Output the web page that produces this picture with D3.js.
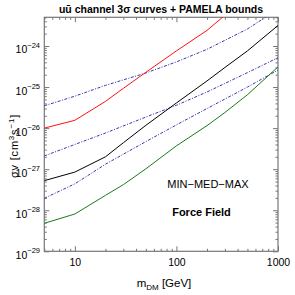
<!DOCTYPE html>
<html>
<head>
<meta charset="utf-8">
<script src="https://cdn.jsdelivr.net/npm/d3@7"></script>
<style>
  body { margin: 0; background: #fff; }
  svg { font-family: "Liberation Sans", Arial, Helvetica, sans-serif; }
</style>
</head>
<body>
<div id="chart"></div>
<script>
// m_DM [GeV] grid for the solid curves and the dash-dot bounds
const massCurves = [5, 10, 20, 30, 50, 100, 200, 300, 500, 1000];
const massBounds = [5, 10, 20, 50, 100, 200, 500, 1000];

// <sigma v> [cm^3 s^-1]
const sigmaMax = [1.0e-26, 1.55e-26, 4.47e-26, 9.3e-26, 2.29e-25, 7.6e-25, 2.4e-24, 5.6e-24, 1.6e-23, 6e-23];
const sigmaMed = [5.25e-28, 8.5e-28, 2.0e-27, 4.4e-27, 1.17e-26, 4.1e-26, 1.41e-25, 3.0e-25, 7.6e-25, 3.16e-24];
const sigmaMin = [4.8e-29, 8.1e-29, 2.3e-28, 4.2e-28, 1.02e-27, 3.7e-27, 1.15e-26, 2.4e-26, 6.5e-26, 3.1e-25];

const boundMax = [3.5e-26, 6.0e-26, 1.1e-25, 2.2e-25, 4.1e-25, 8.3e-25, 2.6e-24, 7.9e-24];
const boundMed = [2.1e-27, 4.0e-27, 7.6e-27, 1.86e-26, 3.6e-26, 7.6e-26, 2.24e-25, 5.2e-25];
const boundMin = [1.95e-28, 4.4e-28, 1.32e-27, 4.7e-27, 1.2e-26, 3.0e-26, 1.0e-25, 2.6e-25];

const xMajor = [10, 100, 1000];
const yMajor = [1e-29, 1e-28, 1e-27, 1e-26, 1e-25, 1e-24];
const yExponents = ["−29", "−28", "−27", "−26", "−25", "−24"];

const W = 295, H = 295;
const plot = { left: 44.3, right: 278, top: 17.3, bottom: 251.3 };

const svg = d3.select("#chart").append("svg")
  .attr("width", W)
  .attr("height", H);

const x = d3.scaleLog().domain([5, 1000]).range([plot.left, plot.right]);
const y = d3.scaleLog().domain([1e-29, 5e-24]).range([plot.bottom, plot.top]);

// minor ticks
const xMinor = [];
[1, 10, 100].forEach(d => d3.range(2, 10).forEach(k => {
  const v = d * k;
  if (v >= 5 && v <= 1000 && !xMajor.includes(v)) xMinor.push(v);
}));
const yMinor = [];
yMajor.forEach(d => d3.range(2, 10).forEach(k => {
  const v = d * k;
  if (v <= 5e-24) yMinor.push(v);
}));

function drawAxis(axis, tx, ty) {
  const g = svg.append("g")
    .attr("transform", `translate(${tx},${ty})`)
    .call(axis);
  g.select(".domain").remove();
  g.selectAll(".tick line").attr("stroke", "#777");
  return g;
}

// bottom (with labels)
const bottom = drawAxis(d3.axisBottom(x).tickValues(xMajor).tickSize(-5).tickPadding(7)
  .tickFormat(d3.format("d")), 0, plot.bottom);
bottom.selectAll("text").attr("font-size", 10.5).attr("fill", "#000")
  .attr("font-family", "Liberation Sans, Arial, sans-serif");
drawAxis(d3.axisBottom(x).tickValues(xMinor).tickSize(-2.5).tickFormat(""), 0, plot.bottom);
// top
drawAxis(d3.axisTop(x).tickValues(xMajor).tickSize(-5).tickFormat(""), 0, plot.top);
drawAxis(d3.axisTop(x).tickValues(xMinor).tickSize(-2.5).tickFormat(""), 0, plot.top);
// left / right
drawAxis(d3.axisLeft(y).tickValues(yMajor).tickSize(-5).tickFormat(""), plot.left, 0);
drawAxis(d3.axisLeft(y).tickValues(yMinor).tickSize(-2.5).tickFormat(""), plot.left, 0);
drawAxis(d3.axisRight(y).tickValues(yMajor).tickSize(-5).tickFormat(""), plot.right, 0);
drawAxis(d3.axisRight(y).tickValues(yMinor).tickSize(-2.5).tickFormat(""), plot.right, 0);

// y tick labels 10^n
yMajor.forEach((v, i) => {
  const t = svg.append("text")
    .attr("x", 40)
    .attr("y", y(v) + 7.5)
    .attr("text-anchor", "end")
    .attr("font-size", 10.5);
  t.append("tspan").text("10");
  t.append("tspan").attr("dy", -5.5).attr("font-size", 7.5).text(yExponents[i]);
});

// frame
svg.append("rect")
  .attr("x", plot.left).attr("y", plot.top)
  .attr("width", plot.right - plot.left)
  .attr("height", plot.bottom - plot.top)
  .attr("fill", "none")
  .attr("stroke", "#777")
  .attr("stroke-width", 1.2);

svg.append("clipPath").attr("id", "clip")
  .append("rect")
  .attr("x", plot.left).attr("y", plot.top)
  .attr("width", plot.right - plot.left)
  .attr("height", plot.bottom - plot.top);

const plotArea = svg.append("g").attr("clip-path", "url(#clip)");

const line = d3.line().x(d => x(d[0])).y(d => y(d[1]));

const series = [
  { m: massBounds, s: boundMax, color: "#3535b0", dash: "3,1.5,1,1.5" },
  { m: massBounds, s: boundMed, color: "#3535b0", dash: "3,1.5,1,1.5" },
  { m: massBounds, s: boundMin, color: "#3535b0", dash: "3,1.5,1,1.5" },
  { m: massCurves, s: sigmaMax, color: "#ff1010", dash: null },
  { m: massCurves, s: sigmaMed, color: "#000000", dash: null },
  { m: massCurves, s: sigmaMin, color: "#1a7a1a", dash: null }
];

series.forEach(d => {
  plotArea.append("path")
    .datum(d.m.map((m, i) => [m, d.s[i]]))
    .attr("d", line)
    .attr("fill", "none")
    .attr("stroke", d.color)
    .attr("stroke-width", 1)
    .attr("stroke-dasharray", d.dash);
});

// title
svg.append("text")
  .attr("x", 161)
  .attr("y", 12.5)
  .attr("text-anchor", "middle")
  .attr("font-size", 10.5)
  .attr("font-weight", "bold")
  .text("uū channel 3σ curves + PAMELA bounds");

// axis titles
const xl = svg.append("text")
  .attr("x", 164)
  .attr("y", 287)
  .attr("text-anchor", "middle")
  .attr("font-size", 11.5);
xl.append("tspan").text("m");
xl.append("tspan").attr("dy", 2.5).attr("font-size", 8).text("DM");
xl.append("tspan").attr("dy", -2.5).text(" [GeV]");

const yl = svg.append("text")
  .attr("transform", "translate(18,146) rotate(-90)")
  .attr("text-anchor", "middle")
  .attr("font-size", 11)
  .attr("letter-spacing", 0.8);
yl.append("tspan").text("σv [cm");
yl.append("tspan").attr("dy", -4.5).attr("font-size", 8).text("3");
yl.append("tspan").attr("dy", 4.5).text("s");
yl.append("tspan").attr("dy", -4.5).attr("font-size", 8).text("−1");
yl.append("tspan").attr("dy", 4.5).text("]");

// annotations
svg.append("text")
  .attr("x", 208).attr("y", 188)
  .attr("text-anchor", "middle")
  .attr("font-size", 11)
  .text("MIN−MED−MAX");
svg.append("text")
  .attr("x", 201.5).attr("y", 215.5)
  .attr("text-anchor", "middle")
  .attr("font-size", 11)
  .attr("font-weight", "bold")
  .text("Force Field");
</script>
</body>
</html>
